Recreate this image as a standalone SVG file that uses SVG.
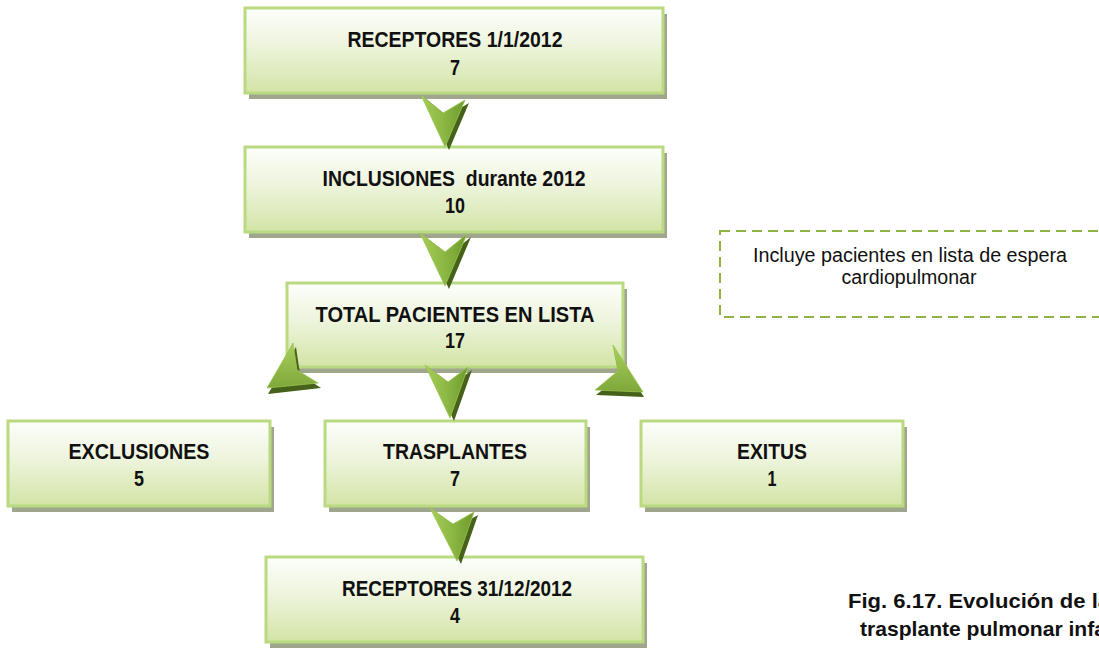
<svg xmlns="http://www.w3.org/2000/svg" width="1099" height="650" viewBox="0 0 1099 650">
<defs>
<linearGradient id="boxg" x1="0" y1="0" x2="0" y2="1">
<stop offset="0" stop-color="#fdfefb"/>
<stop offset="0.45" stop-color="#edf4dc"/>
<stop offset="1" stop-color="#d3e4a6"/>
</linearGradient>
<linearGradient id="arrg" x1="0" y1="0" x2="1" y2="0">
<stop offset="0" stop-color="#a6cd58"/>
<stop offset="0.5" stop-color="#8cb844"/>
<stop offset="1" stop-color="#6e9a2c"/>
</linearGradient>
<linearGradient id="arrg2" x1="0" y1="0" x2="0" y2="1">
<stop offset="0" stop-color="#a9d05c"/>
<stop offset="1" stop-color="#7ea73a"/>
</linearGradient>
</defs>
<style>
.shadow{fill:#a0a68e}
.box{fill:url(#boxg);stroke:#b9da80;stroke-width:3}
.t{font-family:"Liberation Sans",Arial,sans-serif;font-weight:bold;font-size:22px;fill:#111;text-anchor:middle}
.note{font-family:"Liberation Sans",Arial,sans-serif;font-size:20px;fill:#111;text-anchor:middle}
.cap{font-family:"Liberation Sans",Arial,sans-serif;font-weight:bold;font-size:21px;fill:#111}
.ash{fill:#46621a}
.arr{fill:url(#arrg);stroke:#9cc452;stroke-width:0.8}
.arr2{fill:url(#arrg2);stroke:#9cc452;stroke-width:0.8}
</style>
<rect width="1099" height="650" fill="#ffffff"/>

<g id="n1">
<rect class="shadow" x="249" y="14" width="418" height="85"/>
<rect class="box" x="245" y="8" width="418" height="85"/>
<text class="t" x="455" y="47" textLength="215" lengthAdjust="spacingAndGlyphs">RECEPTORES 1/1/2012</text>
<text class="t" x="455" y="75" textLength="10" lengthAdjust="spacingAndGlyphs">7</text>
</g>
<g id="n2">
<rect class="shadow" x="249" y="153" width="418" height="85"/>
<rect class="box" x="245" y="147" width="418" height="85"/>
<text class="t" x="454" y="186" textLength="263" lengthAdjust="spacingAndGlyphs" xml:space="preserve">INCLUSIONES  durante 2012</text>
<text class="t" x="455" y="213" textLength="20" lengthAdjust="spacingAndGlyphs">10</text>
</g>
<g id="n3">
<rect class="shadow" x="291" y="289" width="336" height="84"/>
<rect class="box" x="287" y="283" width="336" height="84"/>
<text class="t" x="455" y="322" textLength="279" lengthAdjust="spacingAndGlyphs">TOTAL PACIENTES EN LISTA</text>
<text class="t" x="455" y="348" textLength="20" lengthAdjust="spacingAndGlyphs">17</text>
</g>
<g id="n4">
<rect class="shadow" x="12" y="427" width="262" height="85"/>
<rect class="box" x="8" y="421" width="262" height="85"/>
<text class="t" x="139" y="459" textLength="141" lengthAdjust="spacingAndGlyphs">EXCLUSIONES</text>
<text class="t" x="139" y="486" textLength="10" lengthAdjust="spacingAndGlyphs">5</text>
</g>
<g id="n5">
<rect class="shadow" x="329" y="427" width="261" height="85"/>
<rect class="box" x="325" y="421" width="261" height="85"/>
<text class="t" x="455" y="459" textLength="144" lengthAdjust="spacingAndGlyphs">TRASPLANTES</text>
<text class="t" x="455" y="486" textLength="10" lengthAdjust="spacingAndGlyphs">7</text>
</g>
<g id="n6">
<rect class="shadow" x="645" y="427" width="262" height="85"/>
<rect class="box" x="641" y="421" width="262" height="85"/>
<text class="t" x="772" y="459" textLength="70" lengthAdjust="spacingAndGlyphs">EXITUS</text>
<text class="t" x="772" y="486" textLength="9" lengthAdjust="spacingAndGlyphs">1</text>
</g>
<g id="n7">
<rect class="shadow" x="270" y="563" width="377" height="85"/>
<rect class="box" x="266" y="557" width="377" height="85"/>
<text class="t" x="457" y="596" textLength="230" lengthAdjust="spacingAndGlyphs">RECEPTORES 31/12/2012</text>
<text class="t" x="455" y="623" textLength="10" lengthAdjust="spacingAndGlyphs">4</text>
</g>

<g id="connectors">
<g id="arrow1">
<polygon class="ash" points="425,98 447,116 469,103 449,150"/>
<polygon class="arr" points="421,95 443,113 465,100 445,147"/>
</g>
<g id="arrow2">
<polygon class="ash" points="424,236 449,255 471,237 449,289"/>
<polygon class="arr" points="420,233 445,252 467,234 445,286"/>
</g>
<g id="arrow3">
<polygon class="ash" points="429,368 452,385 472,370 454,421"/>
<polygon class="arr" points="425,365 448,382 468,367 450,418"/>
</g>
<g id="arrow4">
<polygon class="ash" points="434,511 457,527 478,515 461,564"/>
<polygon class="arr" points="430,508 453,524 474,512 457,561"/>
</g>
<g id="arrowL">
<polygon class="ash" points="296,347 300,374 321,388 268,394"/>
<polygon class="arr2" points="293,343 297,370 318,383 267,388"/>
</g>
<g id="arrowR">
<polygon class="ash" points="614,350 619,377 596,395 644,397"/>
<polygon class="arr2" points="613,345 618,371 595,390 643,392"/>
</g>
</g>

<g id="note">
<rect x="720" y="231" width="420" height="86" fill="none" stroke="#8fb244" stroke-width="2" stroke-dasharray="10 6"/>
<text class="note" x="910" y="262" textLength="314" lengthAdjust="spacingAndGlyphs">Incluye pacientes en lista de espera</text>
<text class="note" x="909" y="284" textLength="135" lengthAdjust="spacingAndGlyphs">cardiopulmonar</text>
</g>

<g id="caption">
<text class="cap" x="848" y="608" textLength="262" lengthAdjust="spacingAndGlyphs">Fig. 6.17. Evolución de la</text>
<text class="cap" x="860" y="636" textLength="246" lengthAdjust="spacingAndGlyphs">trasplante pulmonar infa</text>
</g>
</svg>
